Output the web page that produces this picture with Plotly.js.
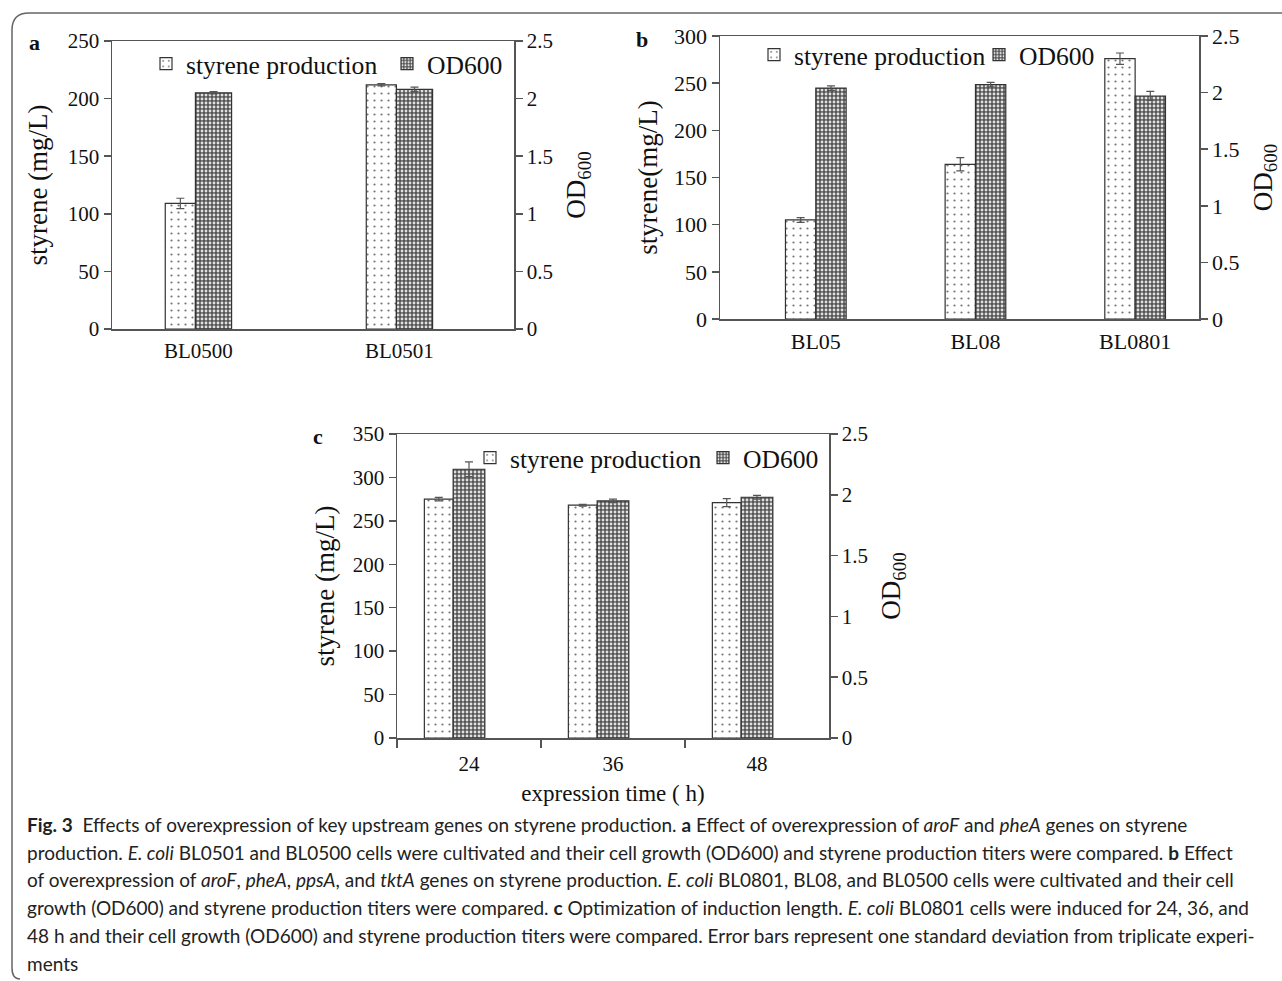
<!DOCTYPE html>
<html>
<head>
<meta charset="utf-8">
<script src="https://cdn.plot.ly/plotly-3.0.1.min.js"></script>
<style>
  html, body { margin: 0; padding: 0; background: #fff; }
  #chart { width: 1282px; height: 981px; }
</style>
</head>
<body>
<div id="chart"></div>
<script>
// ---------------- data ----------------
const catsA = ['BL0500', 'BL0501'];
const styreneA = [109, 212];
const styreneErrA = [4.5, 1];
const odA = [2.05, 2.08];
const odErrA = [0.01, 0.02];

const catsB = ['BL05', 'BL08', 'BL0801'];
const styreneB = [105, 164, 276];
const styreneErrB = [2.5, 7, 6];
const odB = [2.04, 2.07, 1.97];
const odErrB = [0.02, 0.02, 0.04];

const catsC = ['24', '36', '48'];
const styreneC = [275, 268, 271];
const styreneErrC = [2, 1, 4.5];
const odC = [2.21, 1.95, 1.98];
const odErrC = [0.06, 0.015, 0.015];

const seriesNames = ['styrene production', 'OD600'];

const captionLines = [
  '<b>Fig. 3</b>&nbsp; Effects of overexpression of key upstream genes on styrene production. <b>a</b> Effect of overexpression of <i>aroF</i> and <i>pheA</i> genes on styrene',
  'production. <i>E. coli</i> BL0501 and BL0500 cells were cultivated and their cell growth (OD600) and styrene production titers were compared. <b>b</b> Effect',
  'of overexpression of <i>aroF</i>, <i>pheA</i>, <i>ppsA</i>, and <i>tktA</i> genes on styrene production. <i>E. coli</i> BL0801, BL08, and BL0500 cells were cultivated and their cell',
  'growth (OD600) and styrene production titers were compared. <b>c</b> Optimization of induction length. <i>E. coli</i> BL0801 cells were induced for 24, 36, and',
  '48 h and their cell growth (OD600) and styrene production titers were compared. Error bars represent one standard deviation from triplicate experi-',
  'ments'
];

// ---------------- styling ----------------
const W = 1282, H = 981;
const px = v => v / W;
const py = v => 1 - v / H;
const SERIF = 'Liberation Serif, Times New Roman, serif';
const AX = '#555';
const TXT = '#111';

const dotPattern = { shape: '.', fgcolor: '#777', bgcolor: '#fff', size: 7, solidity: 0.08, fillmode: 'replace' };
const hatchPattern = { shape: '.', fgcolor: '#e0e0e0', bgcolor: '#555', size: 4, solidity: 0.4, fillmode: 'replace' };

function styreneTrace(cats, vals, errs, xa, ya, legend, off, w) {
  return {
    type: 'bar', name: seriesNames[0], x: cats, y: vals, xaxis: xa, yaxis: ya, legend: legend,
    offset: off, width: w,
    marker: { color: '#fff', line: { color: '#333', width: 1.2 }, pattern: dotPattern },
    error_y: { type: 'data', array: errs, visible: true, color: '#555', thickness: 1.2, width: 4 },
    hoverinfo: 'x+y'
  };
}
function odTrace(cats, vals, errs, xa, ya, legend, off, w) {
  return {
    type: 'bar', name: seriesNames[1], x: cats, y: vals, xaxis: xa, yaxis: ya, legend: legend,
    offset: off, width: w,
    marker: { color: '#555', line: { color: '#333', width: 1.2 }, pattern: hatchPattern },
    error_y: { type: 'data', array: errs, visible: true, color: '#555', thickness: 1.2, width: 4 },
    hoverinfo: 'x+y'
  };
}

const data = [
  styreneTrace(catsA, styreneA, styreneErrA, 'x', 'y', 'legend', -0.165, 0.15),
  odTrace(catsA, odA, odErrA, 'x', 'y2', 'legend', -0.015, 0.18),
  styreneTrace(catsB, styreneB, styreneErrB, 'x2', 'y3', 'legend2', -0.19, 0.19),
  odTrace(catsB, odB, odErrB, 'x2', 'y4', 'legend2', 0.0, 0.19),
  styreneTrace(catsC, styreneC, styreneErrC, 'x3', 'y5', 'legend3', -0.31, 0.20),
  odTrace(catsC, odC, odErrC, 'x3', 'y6', 'legend3', -0.11, 0.22)
];

const tickFont = { family: SERIF, size: 21, color: TXT };
const tickFontB = { family: SERIF, size: 22, color: TXT };
const titleFont = { family: SERIF, size: 27, color: TXT };

function xAxis(domain, anchor, range, ticks, tf) {
  return {
    domain: domain, anchor: anchor, type: 'category', range: range,
    showline: true, linecolor: AX, linewidth: 1.5, mirror: true,
    ticks: ticks ? 'outside' : '', tickson: 'boundaries', ticklen: 8, tickcolor: AX, tickwidth: 1.5,
    tickfont: tf || tickFont, showgrid: false, zeroline: false, fixedrange: true,
    ticklabelstandoff: ticks ? 6 : 2
  };
}
function yLeft(domain, anchor, range, dtick, title, standoff, tf) {
  return {
    domain: domain, anchor: anchor, range: range, dtick: dtick, tick0: 0,
    showline: true, linecolor: AX, linewidth: 1.5,
    ticks: 'outside', ticklen: 7, tickcolor: AX, tickwidth: 1.5,
    tickfont: tf || tickFont, showgrid: false, zeroline: false, fixedrange: true,
    title: { text: title, font: titleFont, standoff: standoff }
  };
}
function yRight(domain, anchor, overlay, title, standoff, tf) {
  return {
    domain: domain, anchor: anchor, overlaying: overlay, side: 'right', range: [0, 2.5], dtick: 0.5, tick0: 0,
    showline: true, linecolor: AX, linewidth: 1.5,
    ticks: 'outside', ticklen: 7, tickcolor: AX, tickwidth: 1.5,
    tickfont: tf || tickFont, showgrid: false, zeroline: false, fixedrange: true,
    title: { text: title, font: titleFont, standoff: standoff }
  };
}

const dA = [px(112), px(514)], yA = [py(329), py(41)];
const dB = [px(720), px(1199)], yB = [py(319), py(36)];
const dC = [px(397), px(829)], yC = [py(738), py(434)];

const legendBase = {
  orientation: 'h', xref: 'paper', yref: 'paper', xanchor: 'left', yanchor: 'middle',
  font: { family: SERIF, size: 25.6, color: TXT }, bgcolor: 'rgba(0,0,0,0)',
  itemwidth: 30, tracegroupgap: 0, traceorder: 'normal', entrywidthmode: 'pixels'
};

const annotations = [
  { text: '<b>a</b>', x: px(34), y: py(42), xref: 'paper', yref: 'paper', showarrow: false, font: { family: SERIF, size: 22, color: TXT }, xanchor: 'center', yanchor: 'middle' },
  { text: '<b>b</b>', x: px(642), y: py(40), xref: 'paper', yref: 'paper', showarrow: false, font: { family: SERIF, size: 22, color: TXT }, xanchor: 'center', yanchor: 'middle' },
  { text: '<b>c</b>', x: px(318), y: py(436), xref: 'paper', yref: 'paper', showarrow: false, font: { family: SERIF, size: 22, color: TXT }, xanchor: 'center', yanchor: 'middle' }
];
const lineY = [824, 852, 879, 907, 935, 963];
captionLines.forEach((t, i) => {
  annotations.push({
    text: t, x: px(25), y: py(lineY[i]), xref: 'paper', yref: 'paper', showarrow: false,
    xanchor: 'left', yanchor: 'middle', align: 'left',
    font: { family: 'Lato, Open Sans, sans-serif', size: 19, color: '#222' }
  });
});

const layout = {
  width: W, height: H,
  margin: { l: 0, r: 0, t: 0, b: 0 },
  paper_bgcolor: '#fff', plot_bgcolor: 'rgba(0,0,0,0)',
  barmode: 'overlay',
  showlegend: true,
  xaxis: xAxis(dA, 'y', [-0.43, 1.57], false),
  yaxis: yLeft(yA, 'x', [0, 250], 50, 'styrene (mg/L)', 12),
  yaxis2: yRight(yA, 'x', 'y', 'OD<sub>600</sub>', 14),
  xaxis2: xAxis(dB, 'y3', [-0.6, 2.4], false, tickFontB),
  yaxis3: yLeft(yB, 'x2', [0, 300], 50, 'styrene(mg/L)', 8, tickFontB),
  yaxis4: yRight(yB, 'x2', 'y3', 'OD<sub>600</sub>', 14, tickFontB),
  xaxis3: Object.assign(xAxis(dC, 'y5', [-0.5, 2.5], true), { title: { text: 'expression time ( h)', font: { family: SERIF, size: 23, color: TXT }, standoff: 10 } }),
  yaxis5: yLeft(yC, 'x3', [0, 350], 50, 'styrene (mg/L)', 10),
  yaxis6: yRight(yC, 'x3', 'y5', 'OD<sub>600</sub>', 14),
  legend: Object.assign({}, legendBase, { x: px(146), y: py(64), entrywidth: 196 }),
  legend2: Object.assign({}, legendBase, { x: px(754), y: py(55), entrywidth: 180 }),
  legend3: Object.assign({}, legendBase, { x: px(470), y: py(458), entrywidth: 188 }),
  annotations: annotations,
  shapes: [
    { type: 'path', xref: 'paper', yref: 'paper', path: `M ${px(20)} ${py(979)} Q ${px(12)} ${py(979)} ${px(12)} ${py(968)} L ${px(12)} ${py(30)} Q ${px(12)} ${py(13)} ${px(29)} ${py(13)} L 1.01 ${py(13)}`, line: { color: '#666', width: 1.5 } }
  ]
};

Plotly.newPlot('chart', data, layout, { displayModeBar: false, staticPlot: true });
</script>
</body>
</html>
